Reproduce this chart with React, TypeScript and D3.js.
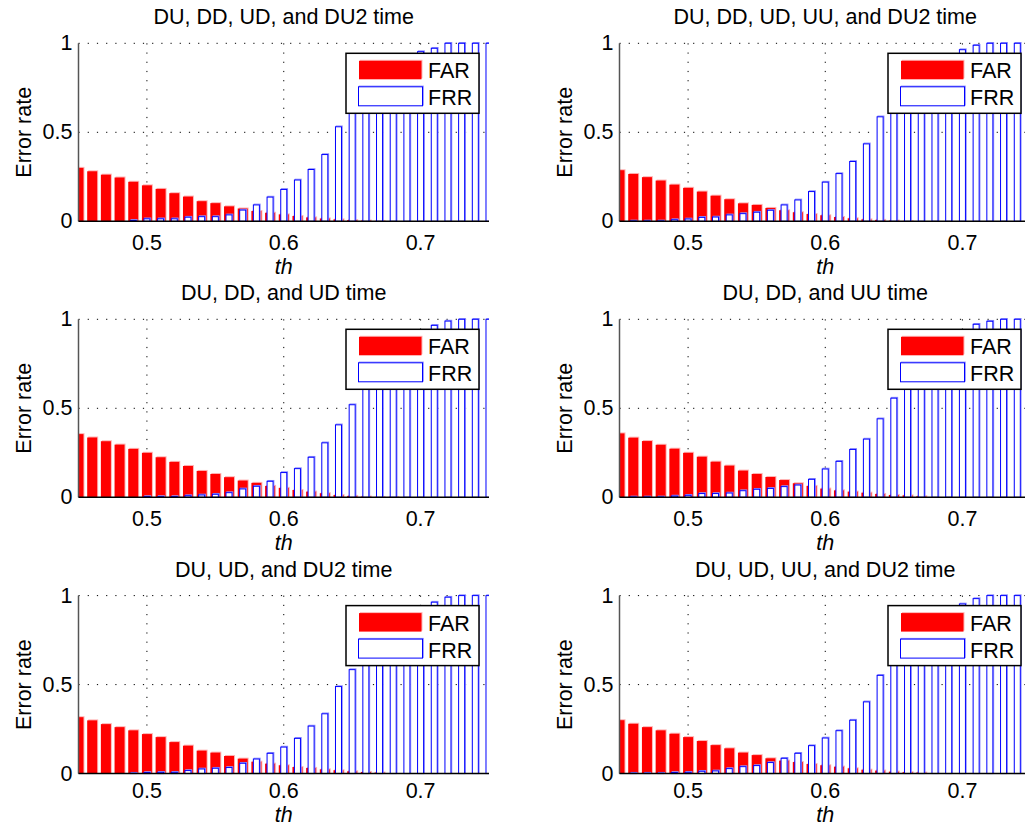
import React from "react";
import * as d3 from "d3";

const thresholds = [0.45, 0.46, 0.47, 0.48, 0.49, 0.5, 0.51, 0.52, 0.53, 0.54, 0.55, 0.56, 0.57, 0.58, 0.59, 0.6, 0.61, 0.62, 0.63, 0.64, 0.65, 0.66, 0.67, 0.68, 0.69, 0.7, 0.71, 0.72, 0.73, 0.74, 0.75];
const xTicks = [0.5, 0.6, 0.7];
const yTicks = [0, 0.5, 1];
const yTickLabels = ["0", "0.5", "1"];
const xTickLabels = ["0.5", "0.6", "0.7"];
const legendLabels = ["FAR", "FRR"];

const titles = [
  "DU, DD, UD, and DU2 time",
  "DU, DD, UD, UU, and DU2 time",
  "DU, DD, and UD time",
  "DU, DD, and UU time",
  "DU, UD, and DU2 time",
  "DU, UD, UU, and DU2 time",
];

const farDuDdUdDu2 = [0.300, 0.281, 0.262, 0.246, 0.222, 0.202, 0.182, 0.158, 0.139, 0.113, 0.102, 0.084, 0.072, 0.058, 0.048, 0.039, 0.030, 0.022, 0.016, 0.011, 0.007, 0.004, 0.002, 0, 0, 0, 0, 0, 0, 0, 0];
const frrDuDdUdDu2 = [0, 0, 0, 0, 0.005, 0.014, 0.014, 0.014, 0.023, 0.026, 0.026, 0.036, 0.063, 0.092, 0.136, 0.179, 0.232, 0.291, 0.375, 0.531, 0.66, 0.75, 0.82, 0.87, 0.91, 0.953, 0.972, 1, 1, 1, 1];

const farDuDdUdUuDu2 = [0.287, 0.266, 0.248, 0.229, 0.206, 0.188, 0.167, 0.144, 0.124, 0.101, 0.092, 0.075, 0.062, 0.051, 0.041, 0.034, 0.024, 0.017, 0.011, 0.008, 0.004, 0.002, 0, 0, 0, 0, 0, 0, 0, 0, 0];
const frrDuDdUdUuDu2 = [0, 0.002, 0.002, 0.002, 0.009, 0.013, 0.022, 0.024, 0.036, 0.043, 0.051, 0.062, 0.092, 0.120, 0.167, 0.220, 0.268, 0.336, 0.435, 0.587, 0.70, 0.78, 0.84, 0.89, 0.93, 0.964, 0.989, 1, 1, 1, 1];

const farDuDdUd = [0.355, 0.336, 0.315, 0.296, 0.272, 0.250, 0.225, 0.199, 0.176, 0.148, 0.131, 0.113, 0.094, 0.081, 0.064, 0.053, 0.041, 0.032, 0.023, 0.013, 0.008, 0.004, 0.002, 0.002, 0, 0, 0, 0, 0, 0, 0];
const frrDuDdUd = [0, 0, 0, 0, 0, 0.004, 0.004, 0.004, 0.009, 0.013, 0.017, 0.026, 0.047, 0.062, 0.090, 0.139, 0.161, 0.225, 0.306, 0.407, 0.520, 0.66, 0.75, 0.82, 0.88, 0.92, 0.966, 0.99, 1, 1, 1];

const farDuDdUu = [0.359, 0.335, 0.316, 0.295, 0.273, 0.250, 0.228, 0.200, 0.178, 0.150, 0.131, 0.114, 0.097, 0.079, 0.064, 0.049, 0.039, 0.032, 0.026, 0.019, 0.013, 0.011, 0.006, 0, 0, 0, 0, 0, 0, 0, 0];
const frrDuDdUu = [0, 0.002, 0.002, 0.002, 0.007, 0.011, 0.021, 0.021, 0.024, 0.037, 0.045, 0.050, 0.060, 0.069, 0.101, 0.159, 0.202, 0.269, 0.327, 0.441, 0.557, 0.67, 0.76, 0.83, 0.89, 0.92, 0.972, 0.989, 1, 1, 1];

const farDuUdDu2 = [0.317, 0.299, 0.278, 0.261, 0.243, 0.222, 0.205, 0.177, 0.157, 0.129, 0.118, 0.099, 0.084, 0.067, 0.056, 0.047, 0.037, 0.032, 0.024, 0.019, 0.013, 0.009, 0.006, 0, 0, 0, 0, 0, 0, 0, 0];
const frrDuUdDu2 = [0, 0, 0, 0, 0.002, 0.006, 0.007, 0.007, 0.017, 0.026, 0.030, 0.034, 0.058, 0.082, 0.114, 0.149, 0.198, 0.267, 0.336, 0.489, 0.584, 0.68, 0.77, 0.84, 0.90, 0.93, 0.963, 0.991, 1, 1, 1];

const farDuUdUuDu2 = [0.300, 0.280, 0.261, 0.243, 0.224, 0.205, 0.183, 0.160, 0.142, 0.118, 0.104, 0.086, 0.073, 0.065, 0.054, 0.047, 0.039, 0.030, 0.022, 0.017, 0.011, 0.008, 0.006, 0, 0, 0, 0, 0, 0, 0, 0];
const frrDuUdUuDu2 = [0, 0.002, 0.002, 0.002, 0.006, 0.007, 0.013, 0.015, 0.028, 0.039, 0.045, 0.062, 0.086, 0.114, 0.157, 0.200, 0.241, 0.300, 0.403, 0.552, 0.67, 0.76, 0.83, 0.88, 0.92, 0.953, 0.983, 1, 1, 1, 1];

const panelData = [
  [farDuDdUdDu2, frrDuDdUdDu2],
  [farDuDdUdUuDu2, frrDuDdUdUuDu2],
  [farDuDdUd, frrDuDdUd],
  [farDuDdUu, frrDuDdUu],
  [farDuUdDu2, frrDuUdDu2],
  [farDuUdUuDu2, frrDuUdUuDu2],
];

const FONT = "'Liberation Sans', Arial, Helvetica, sans-serif";
const FS = 21.5;
const W = 1025;
const H = 827;
const colX = [[78.5, 489], [619.5, 1031]];
const rowTop = [43.3, 319.3, 595.6];
const plotH = 178;

function Panel({ idx }: { idx: number }) {
  const col = idx % 2;
  const row = Math.floor(idx / 2);
  const [x0, x1] = colX[col];
  const top = rowTop[row];
  const bottom = top + plotH;
  const x = d3.scaleLinear().domain([0.45, 0.75]).range([x0, x1]);
  const y = d3.scaleLinear().domain([0, 1]).range([bottom, top]);
  const step = x(0.46) - x(0.45);
  const redW = step * 0.73;
  const blueW = step * 0.44;
  const [far, frr] = panelData[idx];
  const clipId = `clip${idx}`;
  const cx = (x0 + x1) / 2;
  const lx = x1 - 10 - 133;
  const ly = top + 10;
  const tickOffset = row === 2 ? 24.3 : 29;
  const thOffset = row === 2 ? 48.6 : 52.5;
  return (
    <g>
      <defs>
        <clipPath id={clipId}>
          <rect x={x0} y={top - 5} width={x1 - x0} height={plotH + 6} />
        </clipPath>
      </defs>
      {xTicks.map((t) => (
        <line key={"gx" + t} x1={x(t)} x2={x(t)} y1={top} y2={bottom} stroke="#000" strokeWidth={1} strokeDasharray="1.2,8" />
      ))}
      {yTicks.filter((t) => t > 0).map((t) => (
        <line key={"gy" + t} x1={x0} x2={x1} y1={y(t)} y2={y(t)} stroke="#000" strokeWidth={1} strokeDasharray="1.2,8" />
      ))}
      <g clipPath={`url(#${clipId})`}>
        {thresholds.map((t, i) => {
          const v = far[i];
          if (v <= 0) return null;
          const yt = y(v);
          return (
            <g key={"r" + i}>
              <rect x={x(t) - redW / 2 + 1} y={yt - 1} width={redW} height={bottom - yt + 1} fill="#ffb4b4" />
              <rect x={x(t) - redW / 2} y={yt} width={redW} height={bottom - yt} fill="#ff0000" />
            </g>
          );
        })}
        {thresholds.map((t, i) => {
          const v = frr[i];
          const yt = y(v);
          return (
            <g key={"b" + i}>
              <rect x={x(t) - blueW / 2 + 0.8} y={yt - 0.8} width={blueW} height={bottom - yt} fill="#fff" stroke="#8c8cff" strokeWidth={1} />
              <rect x={x(t) - blueW / 2} y={yt} width={blueW} height={bottom - yt} fill="#fff" stroke="#0000ff" strokeWidth={1} />
            </g>
          );
        })}
      </g>
      <line x1={x0} x2={x0} y1={top} y2={bottom} stroke="#555" strokeWidth={1.5} />
      <line x1={x0} x2={x1} y1={bottom} y2={bottom} stroke="#000" strokeWidth={1.5} />
      {yTicks.map((t, i) => (
        <text key={"yt" + t} x={x0 - 6} y={y(t)} textAnchor="end" dominantBaseline="central" fontSize={FS} fontFamily={FONT} fill="#000">
          {yTickLabels[i]}
        </text>
      ))}
      {xTicks.map((t, i) => (
        <text key={"xt" + t} x={x(t)} y={bottom + tickOffset} textAnchor="middle" fontSize={FS} fontFamily={FONT} fill="#000">
          {xTickLabels[i]}
        </text>
      ))}
      <text x={cx} y={bottom + thOffset} textAnchor="middle" fontSize={FS} fontStyle="italic" fontFamily={FONT} fill="#000">th</text>
      <text x={cx} y={top - 19} textAnchor="middle" fontSize={FS} fontFamily={FONT} fill="#000">{titles[idx]}</text>
      <text transform={`translate(${x0 - 48},${(top + bottom) / 2}) rotate(-90)`} textAnchor="middle" fontSize={FS} fontFamily={FONT} fill="#000">Error rate</text>
      <rect x={lx} y={ly} width={133} height={60} fill="#fff" stroke="#000" strokeWidth={1.5} />
      <rect x={lx + 14} y={ly + 6.5} width={62.5} height={18.5} fill="#ffb4b4" />
      <rect x={lx + 13} y={ly + 7.5} width={62.5} height={18.5} fill="#ff0000" />
      <rect x={lx + 13.3} y={ly + 32.8} width={64} height={19} fill="#fff" stroke="#8c8cff" strokeWidth={1} />
      <rect x={lx + 12.5} y={ly + 33.5} width={64} height={19} fill="#fff" stroke="#0000ff" strokeWidth={1} />
      <text x={lx + 82} y={ly + 25} fontSize={FS} fontFamily={FONT} fill="#000">{legendLabels[0]}</text>
      <text x={lx + 82} y={ly + 52} fontSize={FS} fontFamily={FONT} fill="#000">{legendLabels[1]}</text>
    </g>
  );
}

export default function App() {
  return (
    <svg width={W} height={H} style={{ position: "absolute", left: 0, top: 0, background: "#fff" }}>
      <rect x={0} y={0} width={W} height={H} fill="#fff" />
      {titles.map((_, i) => (
        <Panel key={i} idx={i} />
      ))}
    </svg>
  );
}
